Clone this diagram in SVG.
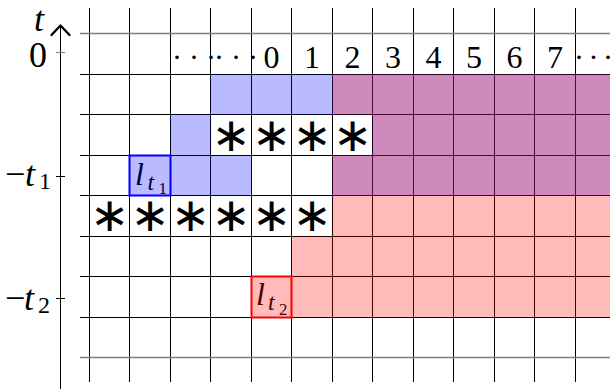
<svg xmlns="http://www.w3.org/2000/svg" width="610" height="389" viewBox="0 0 610 389">
<style>
.g{stroke:#000;stroke-width:1;fill:none}
.gg{stroke:#808080;stroke-width:1.6;fill:none}
.num{font-family:"Liberation Serif",serif;font-size:32px;text-anchor:middle;fill:#000}
.lab{font-family:"Liberation Serif",serif;font-size:36px;fill:#000}
.it{font-style:italic}
.dots{font-family:"Liberation Serif",serif;font-size:30px;letter-spacing:7px;fill:#000}
.ast{font-family:"DejaVu Sans",sans-serif;font-size:47px;text-anchor:middle;fill:#000}
</style>
<rect width="610" height="389" fill="#fff"/>
<g id="labels">
<text class="lab it" x="34" y="31">t</text>
<text class="lab" x="38" y="67" text-anchor="middle">0</text>
<text class="lab" y="186"><tspan x="5">−</tspan><tspan class="it" x="25">t</tspan><tspan x="39" y="189" font-size="24">1</tspan></text>
<text class="lab" y="310"><tspan x="5">−</tspan><tspan class="it" x="24">t</tspan><tspan x="38" y="313" font-size="24">2</tspan></text>
<text class="num" x="271.5" y="68">0</text>
<text class="num" x="312" y="68">1</text>
<text class="num" x="352.5" y="68">2</text>
<text class="num" x="393" y="68">3</text>
<text class="num" x="433.5" y="68">4</text>
<text class="num" x="474" y="68">5</text>
<text class="num" x="514.5" y="68">6</text>
<text class="num" x="555" y="68">7</text>
<text class="dots" x="172" y="67">···</text>
<text class="dots" x="214" y="67">···</text>
<text class="dots" x="574" y="67" style="letter-spacing:4.5px">···</text>
</g>
<g id="asterisks">
<text class="ast" x="231" y="151">∗</text>
<text class="ast" x="271.5" y="151">∗</text>
<text class="ast" x="312" y="151">∗</text>
<text class="ast" x="352.5" y="151">∗</text>
<text class="ast" x="109.5" y="231">∗</text>
<text class="ast" x="150" y="231">∗</text>
<text class="ast" x="190.5" y="231">∗</text>
<text class="ast" x="231" y="231">∗</text>
<text class="ast" x="271.5" y="231">∗</text>
<text class="ast" x="312" y="231">∗</text>
</g>
<g id="grid">
<path class="g" d="M89.5,8V382M129.5,8V382M170.5,8V382M210.5,8V382M251.5,8V382M291.5,8V382M332.5,8V382M372.5,8V382M413.5,8V382M453.5,8V382M494.5,8V382M534.5,8V382M575.5,8V382"/>
<path class="g" d="M80,74.5H610M80,114.5H610M80,155.5H610M80,195.5H610M80,236.5H610M80,276.5H610M80,317.5H610"/>
<path class="gg" d="M80,33.5H610M80,357.5H610"/>
</g>
<g id="node-lt1-text">
<text class="lab it" x="135" y="185" style="font-size:32px">l<tspan x="147.5" y="190" style="font-size:24px">t</tspan><tspan x="158.5" y="193.5" style="font-size:17px;font-style:normal">1</tspan></text>
</g>
<g id="node-lt2-text">
<text class="lab it" x="256" y="305" style="font-size:32px">l<tspan x="268" y="310" style="font-size:24px">t</tspan><tspan x="279" y="315" style="font-size:17px;font-style:normal">2</tspan></text>
</g>
<g id="regions">
<path id="blue-region" fill="#0000ff" fill-opacity="0.27" d="M210.5,74.5H332.5V114.5H210.5ZM170.5,114.5H210.5V155.5H170.5ZM129.5,155.5H251.5V195.5H129.5Z"/>
<path id="purple-region" fill="#9f157b" fill-opacity="0.5" d="M332.5,74.5H610V195.5H332.5V155.5H372.5V114.5H332.5Z"/>
<path id="pink-region" fill="#ff0000" fill-opacity="0.27" d="M332.5,195.5H610V317.5H251.5V276.5H291.5V236.5H332.5Z"/>
</g>
<g id="node-lt1"><rect x="129.5" y="155.5" width="41" height="40" fill="none" stroke="#0000ff" stroke-width="2"/></g>
<g id="node-lt2"><rect x="251.5" y="276.5" width="40" height="41" fill="none" stroke="#ff0000" stroke-width="2"/></g>
<g id="connectors">
<path d="M60.5,389V26" stroke="#000" stroke-width="1" fill="none"/>
<path d="M51.5,35L60.5,25.5L69.5,35" stroke="#000" stroke-width="2.4" fill="none" stroke-linecap="round" stroke-linejoin="round"/>
<path d="M56,52.5H65" stroke="#808080" stroke-width="1"/>
<path d="M56,176.5H65M56,298.5H65" stroke="#000" stroke-width="1"/>
</g>
</svg>
